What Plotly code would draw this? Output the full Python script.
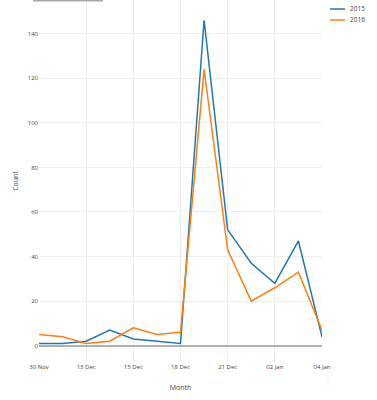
import plotly.graph_objects as go

categories = ["30 Nov", "06 Dec", "13 Dec", "14 Dec", "15 Dec", "16 Dec", "18 Dec",
              "19 Dec", "21 Dec", "28 Dec", "02 Jan", "03 Jan", "04 Jan"]
counts_2015 = [1, 1, 2, 7, 3, 2, 1, 146, 52, 37, 28, 47, 4]
counts_2016 = [5, 4, 1, 2, 8, 5, 6, 124, 43, 20, 26, 33, 7]
tick_labels = categories[::2]

series_names = ["2015", "2016"]
colors = ["#1f77b4", "#ff7f0e"]
series_values = [counts_2015, counts_2016]

W, H = 377, 400
L, R, T, B = 39, 55, 0, 38
pw = W - L - R
ph = H - T - B


def px_x(p):
    return (p - L) / pw


def px_y(p):
    return 1 - (p - T) / ph


fig = go.Figure()
for name, vals, col in zip(series_names, series_values, colors):
    fig.add_trace(go.Scatter(x=categories, y=vals, mode="lines", name=name,
                             line=dict(color=col, width=1.5), showlegend=False))

# compact legend drawn in the top-right corner
shapes = [dict(type="rect", xref="paper", yref="paper",
               x0=px_x(33), x1=px_x(103), y0=px_y(1.5), y1=px_y(0),
               fillcolor="#aaaaaa", line=dict(width=0), layer="above")]
annotations = []
legend_rows = [9, 20]
for name, col, row in zip(series_names, colors, legend_rows):
    shapes.append(dict(type="line", xref="paper", yref="paper",
                       x0=px_x(330), x1=px_x(345), y0=px_y(row), y1=px_y(row),
                       line=dict(color=col, width=1.5)))
    annotations.append(dict(xref="paper", yref="paper", x=px_x(348), y=px_y(row),
                            xanchor="left", yanchor="middle", showarrow=False,
                            text=name, font=dict(family="Open Sans", size=6.5, color="#444")))

fig.update_layout(
    width=W, height=H,
    margin=dict(l=L, r=R, t=T, b=B, pad=0),
    paper_bgcolor="white", plot_bgcolor="white",
    font=dict(family="Open Sans", size=6, color="#444"),
    showlegend=False,
    xaxis=dict(
        type="category", categoryorder="array", categoryarray=categories,
        tickmode="array", tickvals=tick_labels, ticktext=tick_labels,
        range=[0, len(categories) - 1],
        showgrid=True, gridcolor="#eeeeee", gridwidth=1,
        zeroline=False, showline=False, ticks="",
        tickfont=dict(size=6, color="#444"),
        title=dict(text="Month", font=dict(size=7, color="#444"), standoff=15),
        automargin=False,
    ),
    yaxis=dict(
        range=[-7.3, 155.1],
        tickvals=[0, 20, 40, 60, 80, 100, 120, 140],
        showgrid=True, gridcolor="#eeeeee", gridwidth=1,
        zeroline=True, zerolinecolor="#b0b0b0", zerolinewidth=2,
        showline=False, ticks="",
        tickfont=dict(size=6, color="#444"),
        title=dict(text="Count", font=dict(size=7, color="#444"), standoff=8),
        automargin=False,
    ),
    shapes=shapes,
    annotations=annotations,
)

fig.write_html("out.html", config={"displayModeBar": False},
               post_script="document.body.style.margin='0';")
